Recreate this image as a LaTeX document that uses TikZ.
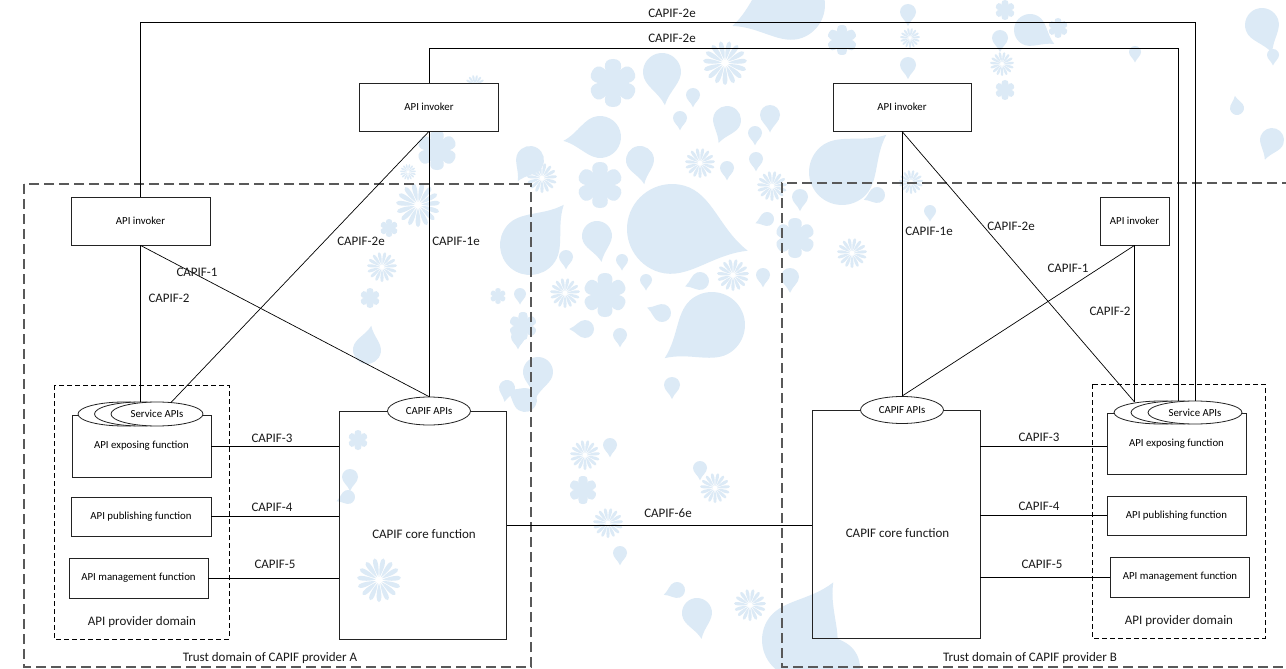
\documentclass[tikz,border=0pt]{standalone}
\usepackage{fontspec}
\setmainfont{Carlito}
\usetikzlibrary{shapes.geometric,calc}

\definecolor{wmblue}{RGB}{220,234,246}
\definecolor{edge}{RGB}{35,35,35}

% background print: drops, six-petal flowers and daisies
% #1,#2 centre, #3 radius, #4 direction of the tip (degrees)
\newcommand\wmdrop[4]{%
  \fill[wmblue, shift={(#1,#2)}, rotate=#4-90, scale=#3]
    (0,-1.75) .. controls (0.3,-1.0) and (1,-0.65) .. (1,0)
    .. controls (1,0.55) and (0.55,1) .. (0,1)
    .. controls (-0.55,1) and (-1,0.55) .. (-1,0)
    .. controls (-1,-0.65) and (-0.3,-1.0) .. (0,-1.75) -- cycle;}
\newcommand\wmflower[3]{%
  \foreach \a in {0,60,...,300}{%
    \fill[wmblue, shift={(#1,#2)}, rotate=\a, scale=#3]
      (0,0) .. controls (0.4,0.45) and (0.5,1) .. (0,1)
      .. controls (-0.5,1) and (-0.4,0.45) .. (0,0) -- cycle;}%
  \fill[wmblue] (#1,#2) circle[radius=#3*0.3pt];}
\newcommand\wmdaisy[3]{%
  \foreach \a in {0,24,...,336}{%
    \fill[wmblue, shift={(#1,#2)}, rotate=\a, scale=#3]
      (0,0.15) .. controls (0.12,0.5) and (0.16,1) .. (0,1)
      .. controls (-0.16,1) and (-0.12,0.5) .. (0,0.15) -- cycle;}}

\begin{document}
\begin{tikzpicture}[x=1pt,y=-1pt,
  box/.style={draw=edge, line width=0.8pt, fill=white, inner sep=0pt,
    font=\fontsize{10.8}{13}\selectfont},
  corebox/.style={draw=edge, line width=0.8pt, inner sep=0pt},
  oval/.style={ellipse, draw=edge, line width=0.8pt, fill=white, inner sep=0pt,
    font=\fontsize{10.8}{13}\selectfont},
  link/.style={draw=black, line width=0.7pt},
  trust/.style={draw=black!65, line width=1.1pt, dash pattern=on 10pt off 5pt},
  prov/.style={draw=black, line width=0.8pt, dash pattern=on 5pt off 3pt},
  lbl/.style={font=\fontsize{13}{15}\selectfont, inner sep=0pt, text=black!90}]

\useasboundingbox (0,0) rectangle (1286,669);
\fill[white] (0,0) rectangle (1286,669);

% ---------- background print ----------
\foreach \x/\y/\r/\d in {
  672/229/45/-16, 712/325/33/215, 600/137/21/186, 662/72/19/-85,
  640/160/14/-80, 727/120/14/-110, 597/236/15/-80, 530/245/30/50,
  842/172/33/40, 790/5/35/200, 1030/30/16/-30, 538/372/15/-95,
  672/385/8/-90, 697/613/15/-80, 830/668/30/120, 507/388/8/-100,
  610/445/7/-90, 700/468/7/-90, 620/553/7/-90, 677/590/8/200,
  1262/25/17/-70, 1273/55/6/-90, 1237/108/7/100, 1272/140/12/-110,
  530/160/14/-120, 755/133/7/-90, 693/95/7/-90, 680/118/7/-90,
  908/65/8/-90, 800/640/38/60, 350/477/8/-90, 348/497/7/200,
  525/400/12/150, 770/115/10/-90, 727/168/7/-90, 756/159/7/-90,
  767/219/7/200, 763/275/7/-90, 700/281/9/200, 646/280/6/-90,
  622/260/6/-90, 566/257/7/-90, 662/313/9/160, 585/329/9/180,
  620/335/7/-90, 367/350/14/80, 520/294/6/-90, 518/337/7/-90,
  908/12/8/-90, 1000/38/8/-90, 800/197/8/-90, 877/195/8/200,
  930/211/6/-90, 790/277/9/-90, 1135/52/6/-90}
  {\wmdrop{\x}{\y}{\r}{\d}}
\foreach \x/\y/\r in {
  613/83/24, 600/185/23, 605/295/22, 583/490/14, 793/623/16,
  795/238/20, 842/40/15, 1005/90/10, 1058/28/10, 437/150/20,
  389/228/9, 370/298/10, 498/296/8, 523/326/14, 358/440/10, 1005/10/10}
  {\wmflower{\x}{\y}{\r}}
\foreach \x/\y/\r in {
  725/63/22, 700/163/15, 772/186/15, 542/178/15, 733/275/16,
  565/293/15, 585/455/15, 608/523/15, 715/488/15, 750/605/16,
  379/580/22, 418/205/22, 408/172/8, 382/267/15, 475/85/10,
  910/38/10, 1002/64/12, 911/182/12, 852/253/15}
  {\wmdaisy{\x}{\y}{\r}}

% ---------- trust domains ----------
\draw[trust] (24,184) rectangle (531,667);
\node[lbl] (trustAlbl) at (270,658) {Trust domain of CAPIF provider A};
\draw[trust] (1292,183) -- (782,183) -- (782,667) -- (1292,667);
\node[lbl] (trustBlbl) at (1030,658) {Trust domain of CAPIF provider B};

% ---------- API provider domains ----------
\draw[prov] (54,385) rectangle (229,639);
\node[lbl] (provAlbl) at (142,622) {API provider domain};
\draw[prov] (1092,384) rectangle (1265,638);
\node[lbl] (provBlbl) at (1179,621) {API provider domain};

% ---------- provider A ----------
\node[box, minimum width=139pt, minimum height=48pt] (invAt) at (429,107) {API invoker};
\node[box, minimum width=139pt, minimum height=48pt] (invA) at (140.5,221) {API invoker};
\node[box, minimum width=139pt, minimum height=62pt] (expA) at (141.5,446) {API exposing function};
\node[box, minimum width=140pt, minimum height=39pt] (pubA) at (141,516.5) {API publishing function};
\node[box, minimum width=139pt, minimum height=40pt] (mgmtA) at (138.5,578) {API management function};
\node[corebox, minimum width=167.5pt, minimum height=228pt] (coreA) at (422.75,525) {};
\node[lbl] (coreAtxt) at (424,534) {CAPIF core function};
\node[oval, minimum width=83pt, minimum height=28pt] (capA) at (429,411) {CAPIF APIs};
\node[oval, minimum width=92pt, minimum height=24pt] (svcA1) at (124,414) {};
\node[oval, minimum width=92pt, minimum height=24pt] (svcA2) at (140.5,414) {};
\node[oval, minimum width=92pt, minimum height=24pt] (svcA3) at (157,414) {Service APIs};

% ---------- provider B ----------
\node[box, minimum width=138pt, minimum height=48pt] (invBt) at (902,107) {API invoker};
\node[box, minimum width=69pt, minimum height=48pt] (invB) at (1134.5,221) {API invoker};
\node[box, minimum width=139pt, minimum height=61pt] (expB) at (1176.5,444) {API exposing function};
\node[box, minimum width=139pt, minimum height=39pt] (pubB) at (1176.5,515.5) {API publishing function};
\node[box, minimum width=139pt, minimum height=40pt] (mgmtB) at (1180,577) {API management function};
\node[corebox, minimum width=168pt, minimum height=228pt] (coreB) at (896,524) {};
\node[lbl] (coreBtxt) at (897.5,533) {CAPIF core function};
\node[oval, minimum width=83pt, minimum height=27pt] (capB) at (902,410) {CAPIF APIs};
\node[oval, minimum width=94pt, minimum height=23pt] (svcB1) at (1161,412.5) {};
\node[oval, minimum width=94pt, minimum height=23pt] (svcB2) at (1178,412.5) {};
\node[oval, minimum width=94pt, minimum height=23pt] (svcB3) at (1195,412.5) {Service APIs};

% attachment points on the Service APIs stacks
\coordinate (svcAin) at (171,402.5);
\coordinate (svcBin) at (1134.5,402);
\coordinate (outTop) at (0,22);
\coordinate (inTop) at (0,48);

% ---------- reference points ----------
% CAPIF-2e between invokers and the far Service APIs
\draw[link] (invA.north) -- (invA.north |- outTop) -- (svcB3.north |- outTop) -- (svcB3.north);
\draw[link] (invAt.north) -- (invAt.north |- inTop) -- (svcB2.north |- inTop) -- (svcB2.north);
\node[lbl] (l2eOut) at (672,13) {CAPIF-2e};
\node[lbl] (l2eIn) at (672,38) {CAPIF-2e};

% provider A
\draw[link] (invAt.south) -- (capA.north);
\draw[link] (invAt.south) -- (svcAin);
\draw[link] (invA.south) -- (capA.north);
\draw[link] (invA.south) -- (svcA2.north);
\draw[link] (expA.east) -- (expA.east -| coreA.west);
\draw[link] (pubA.east) -- (pubA.east -| coreA.west);
\draw[link] (mgmtA.east) -- (mgmtA.east -| coreA.west);
\node[lbl] (lA1) at (197,272) {CAPIF-1};
\node[lbl] (lA2) at (169,298) {CAPIF-2};
\node[lbl] (lA2e) at (361,241) {CAPIF-2e};
\node[lbl] (lA1e) at (456,241) {CAPIF-1e};
\node[lbl] (lA3) at (272,438) {CAPIF-3};
\node[lbl] (lA4) at (272,507) {CAPIF-4};
\node[lbl] (lA5) at (275,564) {CAPIF-5};

% CAPIF-6e between the two core functions
\draw[link] (coreA.east) -- (coreA.east -| coreB.west);
\node[lbl] (l6e) at (668,513) {CAPIF-6e};

% provider B
\draw[link] (invBt.south) -- (capB.north);
\draw[link] (invBt.south) -- (svcBin);
\draw[link] (invB.south) -- (capB.north);
\draw[link] (invB.south) -- (svcBin);
\draw[link] (expB.west |- 0,446) -- (coreB.east |- 0,446);
\draw[link] (pubB.west) -- (pubB.west -| coreB.east);
\draw[link] (mgmtB.west) -- (mgmtB.west -| coreB.east);
\node[lbl] (lB1e) at (929,231) {CAPIF-1e};
\node[lbl] (lB2e) at (1011,226) {CAPIF-2e};
\node[lbl] (lB1) at (1068,268) {CAPIF-1};
\node[lbl] (lB2) at (1110,311) {CAPIF-2};
\node[lbl] (lB3) at (1039,437) {CAPIF-3};
\node[lbl] (lB4) at (1039,506) {CAPIF-4};
\node[lbl] (lB5) at (1042,564) {CAPIF-5};
\end{tikzpicture}
\end{document}
